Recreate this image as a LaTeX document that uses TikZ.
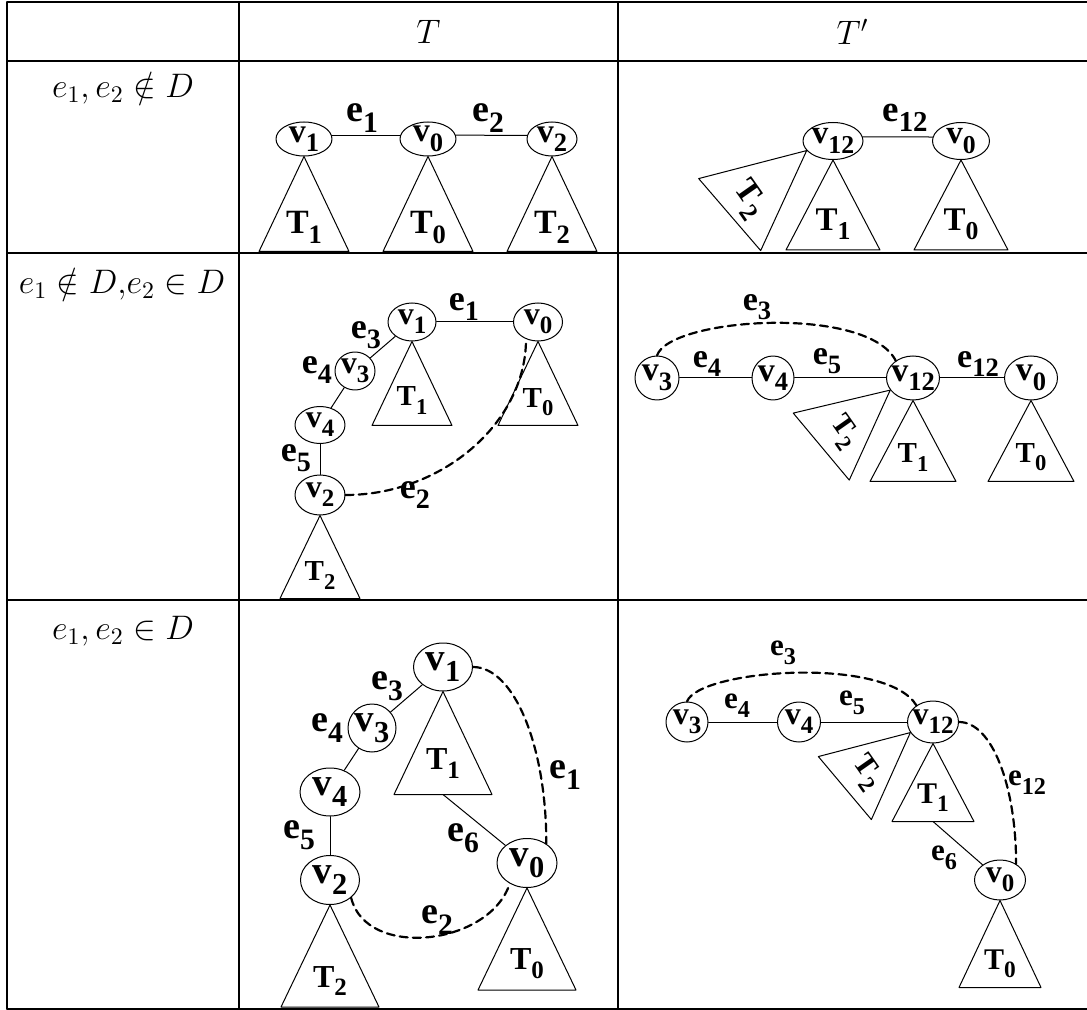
\RequirePackage{fix-cm}
\documentclass[tikz,border=0pt]{standalone}
\usepackage{fontspec}
\usepackage{graphicx}
\usetikzlibrary{calc,shapes.geometric}
\newfontfamily\lblfont{Liberation Serif}
\newcommand\lsub[1]{\raisebox{-0.28em}{\scalebox{0.78}{#1}}}

\begin{document}
\begin{tikzpicture}[
  x=0.5pt,y=-0.5pt,
  line cap=round,
  line join=round,
  vsize/.store in=\vsz, esize/.store in=\esz, tsize/.store in=\tsz,
  vsize=16, esize=18, tsize=16,
  grid/.style={line width=0.7pt},
  tabtext/.style={font=\fontsize{17}{20}\selectfont},
  vtx/.style 2 args={draw,ellipse,inner xsep=-2pt,inner ysep=-1pt,line width=0.5pt,
    minimum width=#1,minimum height=#2,
    font=\lblfont\bfseries\fontsize{\vsz}{\vsz}\selectfont},
  elab/.style={inner sep=0pt,font=\lblfont\bfseries\fontsize{\esz}{\esz}\selectfont},
  tlab/.style={inner sep=0pt,font=\lblfont\bfseries\fontsize{\tsz}{\tsz}\selectfont},
  treeline/.style={line width=0.5pt},
  solidedge/.style={line width=0.5pt},
  dashedge/.style={line width=1.1pt,dash pattern=on 4pt off 2.6pt}
]
\useasboundingbox (0,0) rectangle (1087,1010);

% table grid
\draw[grid] (7,2) -- (1087,2);
\draw[grid] (7,61) -- (1087,61);
\draw[grid] (7,253) -- (1087,253);
\draw[grid] (7,600) -- (1087,600);
\draw[grid] (7,1009) -- (1087,1009);
\draw[grid] (7,2) -- (7,1009);
\draw[grid] (239,2) -- (239,1009);
\draw[grid] (618,2) -- (618,1009);

\node[tabtext] (hT) at (428.5,32) {$T$};
\node[tabtext] (hTp) at (852.5,32) {$T'$};
\node[tabtext] (row1) at (123,88) {$e_1, e_2 \notin D$};
\node[tabtext] (row2) at (122,284) {$e_1 \notin D{,}e_2 \in D$};
\node[tabtext] (row3) at (123,631) {$e_1, e_2 \in D$};

% row 1, T
\begin{scope}[vsize=17, esize=19, tsize=17]
\node[vtx={28pt}{17pt}] (av1) at (304,139) {v\lsub{1}};
\node[vtx={28pt}{17pt}] (av0) at (428,139) {v\lsub{0}};
\node[vtx={25pt}{17pt}] (av2) at (552,139) {v\lsub{2}};
\draw[solidedge] (av1.8) -- (av0.172);
\draw[solidedge] (av0.8) -- (av2.172);
\node[elab] (ae1) at (362,118) {e\lsub{1}};
\node[elab] (ae2) at (488,118) {e\lsub{2}};
\draw[treeline] (av1.south) -- ++(-45,95) -- ++(90,0) -- cycle;
\draw[treeline] (av0.south) -- ++(-45,95) -- ++(90,0) -- cycle;
\draw[treeline] (av2.south) -- ++(-45,95) -- ++(90,0) -- cycle;
\node[tlab] (aT1) at ($(av1.south)+(0,71)$) {T\lsub{1}};
\node[tlab] (aT0) at ($(av0.south)+(0,71)$) {T\lsub{0}};
\node[tlab] (aT2) at ($(av2.south)+(0,71)$) {T\lsub{2}};
\end{scope}

% row 1, T'
\begin{scope}[vsize=16.5, esize=18.5, tsize=16.5]
\node[vtx={30pt}{18.5pt}] (bv12) at (833,141) {v\lsub{12}};
\node[vtx={28.5pt}{18.5pt}] (bv0) at (961,141) {v\lsub{0}};
\draw[solidedge] (bv12.8) -- (bv0.172);
\node[elab] (be12) at (905,118) {e\lsub{12}};
\draw[treeline] (bv12.south) -- ++(-47,90) -- ++(94,0) -- cycle;
\draw[treeline] (bv0.south) -- ++(-47,90) -- ++(94,0) -- cycle;
\draw[treeline] (bv12.200) -- ++(-108,28) -- ++(62,72) -- cycle;
\node[tlab] (bT1) at ($(bv12.south)+(0,64)$) {T\lsub{1}};
\node[tlab] (bT0) at ($(bv0.south)+(0,64)$) {T\lsub{0}};
\node[tlab,rotate=-55] (bT2) at ($(bv12.200)+(-58,49)$) {T\lsub{2}};
\end{scope}

% row 2, T
\begin{scope}[vsize=16, esize=18, tsize=14.5]
\node[vtx={24pt}{19pt}] (cv1) at (412,322) {v\lsub{1}};
\node[vtx={24.5pt}{19pt}] (cv0) at (538,322) {v\lsub{0}};
\node[vtx={20pt}{19pt}] (cv3) at (355,371) {v\lsub{3}};
\node[vtx={25pt}{18.5pt}] (cv4) at (320,425) {v\lsub{4}};
\node[vtx={25pt}{20pt}] (cv2) at (320,495) {v\lsub{2}};
\draw[solidedge] (cv1) -- (cv0);
\draw[solidedge] (cv1) -- (cv3);
\draw[solidedge] (cv3) -- (cv4);
\draw[solidedge] (cv4) -- (cv2);
\draw[dashedge] (cv2.east) .. controls +(96,0) and +(0,84) .. (cv0.235);
\node[elab] (ce1) at (464,307) {e\lsub{1}};
\node[elab] (ce3) at (366,335) {e\lsub{3}};
\node[elab] (ce4) at (317,370) {e\lsub{4}};
\node[elab] (ce5) at (296,458) {e\lsub{5}};
\node[elab] (ce2) at (415,495) {e\lsub{2}};
\draw[treeline] (cv1.south) -- ++(-40,84) -- ++(80,0) -- cycle;
\draw[treeline] (cv0.south) -- ++(-40,84) -- ++(80,0) -- cycle;
\draw[treeline] (cv2.south) -- ++(-40,83) -- ++(80,0) -- cycle;
\node[tlab] (cT1) at ($(cv1.south)+(0,59)$) {T\lsub{1}};
\node[tlab] (cT0) at ($(cv0.south)+(0,61)$) {T\lsub{0}};
\node[tlab] (cT2) at ($(cv2.south)+(0,60)$) {T\lsub{2}};
\end{scope}

% row 2, T'
\begin{scope}[vsize=17, esize=17, tsize=14.5]
\node[vtx={22pt}{22pt}] (dv3) at (657,378) {v\lsub{3}};
\node[vtx={21pt}{22pt}] (dv4) at (773,378) {v\lsub{4}};
\node[vtx={26.5pt}{22pt}] (dv12) at (913,378) {v\lsub{12}};
\node[vtx={26.5pt}{22pt}] (dv0) at (1031,378) {v\lsub{0}};
\draw[solidedge] (dv3) -- (dv4);
\draw[solidedge] (dv4) -- (dv12);
\draw[solidedge] (dv12) -- (dv0);
\draw[dashedge] (dv3.north) .. controls +(13,-38) and +(-28,-56) .. (dv12.135);
\node[elab] (de3) at (757,307) {e\lsub{3}};
\node[elab] (de4) at (707,364) {e\lsub{4}};
\node[elab] (de5) at (827,361) {e\lsub{5}};
\node[elab] (de12) at (978,364) {e\lsub{12}};
\draw[treeline] (dv12.south) -- ++(-43,81) -- ++(86,0) -- cycle;
\draw[treeline] (dv0.south) -- ++(-43,81) -- ++(86,0) -- cycle;
\draw[treeline] (dv12.208) -- ++(-97,23) -- ++(56,67) -- cycle;
\node[tlab] (dT1) at ($(dv12.south)+(0,57)$) {T\lsub{1}};
\node[tlab] (dT0) at ($(dv0.south)+(0,57)$) {T\lsub{0}};
\node[tlab,rotate=-55] (dT2) at ($(dv12.208)+(-47,42)$) {T\lsub{2}};
\end{scope}

% row 3, T
\begin{scope}[vsize=19.5, esize=19, tsize=16]
\node[vtx={29.5pt}{24pt}] (fv1) at (443,667) {v\lsub{1}};
\node[vtx={24pt}{24pt}] (fv3) at (372,728) {v\lsub{3}};
\node[vtx={30pt}{24pt}] (fv4) at (330,792) {v\lsub{4}};
\node[vtx={29.5pt}{24.5pt}] (fv2) at (330,880) {v\lsub{2}};
\node[vtx={30pt}{24.5pt}] (fv0) at (527,863) {v\lsub{0}};
\draw[solidedge] (fv1) -- (fv3);
\draw[solidedge] (fv3) -- (fv4);
\draw[solidedge] (fv4) -- (fv2);
\draw[treeline] (fv1.south) -- ++(-49,103) -- ++(98,0) -- cycle;
\coordinate (fT1b) at ($(fv1.south)+(0,103)$);
\draw[solidedge] (fT1b) -- (fv0);
\draw[treeline] (fv0.south) -- ++(-49,102) -- ++(98,0) -- cycle;
\draw[treeline] (fv2.south) -- ++(-49,102) -- ++(98,0) -- cycle;
\draw[dashedge] (fv1.east) .. controls +(41,0) and +(0,-98) .. (fv0.45);
\draw[dashedge] (fv2.-40) .. controls +(15,62) and +(-20,62) .. (fv0.230);
\node[elab] (fe3) at (387,686) {e\lsub{3}};
\node[elab] (fe4) at (327,728) {e\lsub{4}};
\node[elab] (fe5) at (299,835) {e\lsub{5}};
\node[elab] (fe6) at (463,838) {e\lsub{6}};
\node[elab] (fe1) at (565,775) {e\lsub{1}};
\node[elab] (fe2) at (437,920) {e\lsub{2}};
\node[tlab] (fT1) at ($(fv1.south)+(0,72)$) {T\lsub{1}};
\node[tlab] (fT0) at ($(fv0.south)+(0,76)$) {T\lsub{0}};
\node[tlab] (fT2) at ($(fv2.south)+(0,76)$) {T\lsub{2}};
\end{scope}

% row 3, T'
\begin{scope}[vsize=16, esize=15.5, tsize=15]
\node[vtx={21pt}{20pt}] (gv3) at (687,722) {v\lsub{3}};
\node[vtx={21.5pt}{20pt}] (gv4) at (799,722) {v\lsub{4}};
\node[vtx={25.5pt}{21pt}] (gv12) at (933,722) {v\lsub{12}};
\node[vtx={25.5pt}{20pt}] (gv0) at (1000,880) {v\lsub{0}};
\draw[solidedge] (gv3) -- (gv4);
\draw[solidedge] (gv4) -- (gv12);
\draw[dashedge] (gv3.north) .. controls +(12,-32) and +(-30,-50) .. (gv12.135);
\draw[dashedge] (gv12.east) .. controls +(33,0) and +(0,-78) .. (gv0.45);
\draw[treeline] (gv12.south) -- ++(-41,78) -- ++(82,0) -- cycle;
\coordinate (gT1b) at ($(gv12.south)+(0,78)$);
\draw[solidedge] (gT1b) -- (gv0);
\draw[treeline] (gv0.south) -- ++(-41,87) -- ++(82,0) -- cycle;
\draw[treeline] (gv12.205) -- ++(-92,24) -- ++(53,63) -- cycle;
\node[elab] (ge3) at (783,653) {e\lsub{3}};
\node[elab] (ge4) at (737,706) {e\lsub{4}};
\node[elab] (ge5) at (852,703) {e\lsub{5}};
\node[elab] (ge12) at (1027,783) {e\lsub{12}};
\node[elab] (ge6) at (944,858) {e\lsub{6}};
\node[tlab] (gT1) at ($(gv12.south)+(0,54)$) {T\lsub{1}};
\node[tlab] (gT0) at ($(gv0.south)+(0,63)$) {T\lsub{0}};
\node[tlab,rotate=-55] (gT2) at ($(gv12.205)+(-44,40)$) {T\lsub{2}};
\end{scope}
\end{tikzpicture}
\end{document}
